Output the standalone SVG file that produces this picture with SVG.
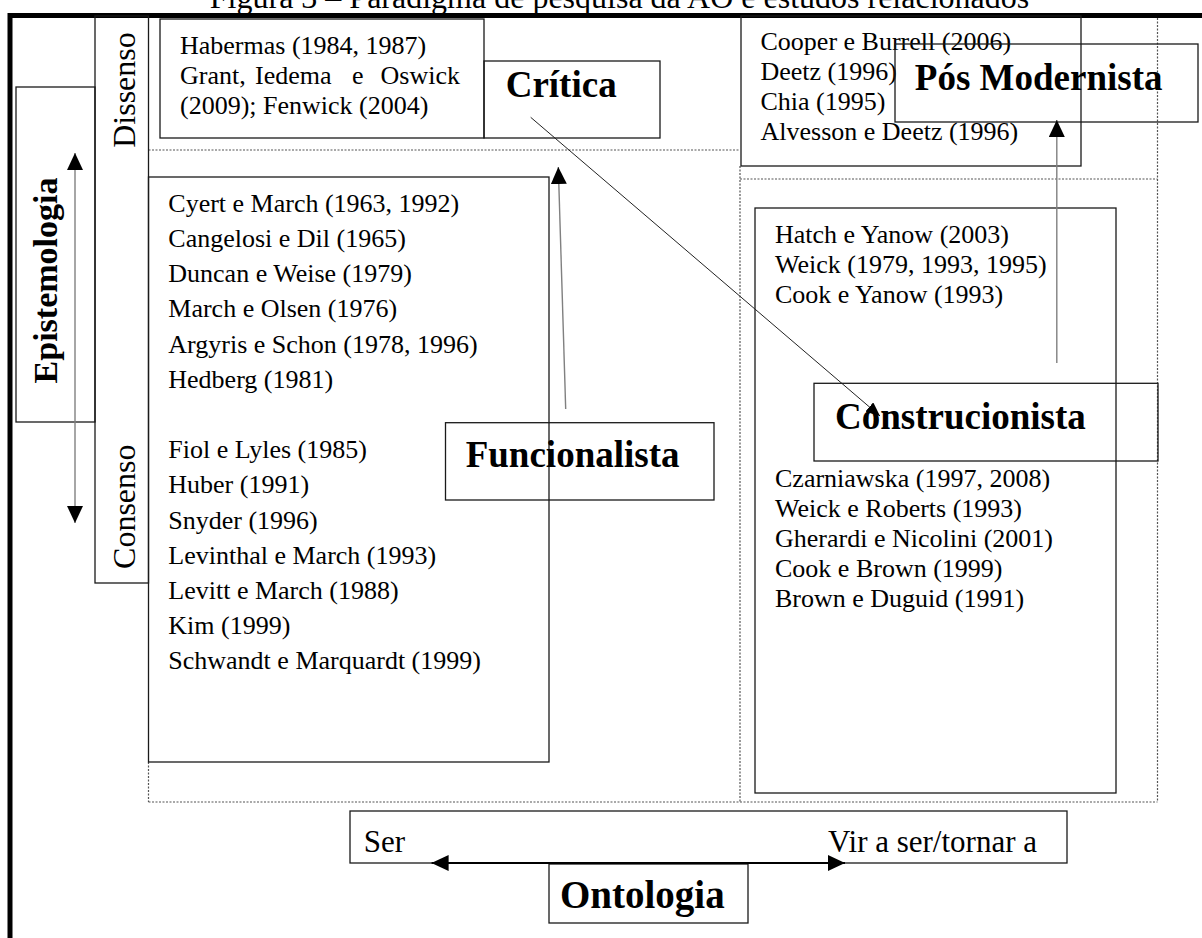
<svg xmlns="http://www.w3.org/2000/svg" width="1202" height="938" viewBox="0 0 1202 938">
  <style>
    .box { fill: none; stroke: #1a1a1a; stroke-width: 1.3; }
    .dot { fill: none; stroke: #555; stroke-width: 1.2; stroke-dasharray: 2 1.5; }
    .frame { stroke: #000; stroke-width: 5; fill: none; }
    .ref { font-family: "Liberation Serif", "Times New Roman", serif; font-size: 26px; fill: #000; }
    .lbl { font-family: "Liberation Serif", "Times New Roman", serif; font-size: 37px; font-weight: bold; fill: #000; }
    .axis { font-family: "Liberation Serif", "Times New Roman", serif; font-size: 32px; fill: #000; }
    .title { font-family: "Liberation Serif", "Times New Roman", serif; font-size: 32px; fill: #000; }
    .grey { stroke: #808080; stroke-width: 1.4; fill: none; }
    .thin { stroke: #222; stroke-width: 1; fill: none; }
    .bold2 { stroke: #000; stroke-width: 2; fill: none; }
  </style>
  <defs>
    <marker id="head" viewBox="0 0 17 16" refX="17" refY="8" markerWidth="17" markerHeight="16" markerUnits="userSpaceOnUse" orient="auto-start-reverse">
      <path d="M0,0 L17,8 L0,16 Z" fill="#000"/>
    </marker>
    <marker id="headSmall" viewBox="0 0 14 12" refX="14" refY="6" markerWidth="14" markerHeight="12" markerUnits="userSpaceOnUse" orient="auto">
      <path d="M0,0 L14,6 L0,12 Z" fill="#000"/>
    </marker>
  </defs>

  <rect width="1202" height="938" fill="#fff"/>

  <!-- caption -->
  <text class="title" x="619.5" y="8" text-anchor="middle">Figura 3 – Paradigma de pesquisa da AO e estudos relacionados</text>

  <!-- outer frame -->
  <g id="frame">
    <line class="frame" x1="8" y1="15.5" x2="1202" y2="15.5"/>
    <line class="frame" x1="10" y1="13" x2="10" y2="938"/>
  </g>

  <!-- quadrant dividers -->
  <g id="quadrants">
    <path class="dot" d="M148.5,150 H740"/>
    <path class="dot" d="M740,166 V802"/>
    <path class="dot" d="M740,179 H1157.5"/>
    <path class="dot" d="M1157.5,18 V802"/>
    <path class="dot" d="M148.5,802 H1157.5"/>
    <path class="dot" d="M148.5,762 V802"/>
  </g>

  <!-- epistemology axis -->
  <g id="epistemologia">
    <rect class="box" x="16" y="87" width="79" height="335"/>
    <text class="lbl" font-size="34" style="font-size:34px" x="57" y="280.5" text-anchor="middle" transform="rotate(-90 57 280.5)">Epistemologia</text>
  </g>
  <g id="dissenso-consenso">
    <rect class="box" x="95" y="16" width="53.5" height="567"/>
    <text class="axis" x="135" y="90" text-anchor="middle" transform="rotate(-90 135 90)">Dissenso</text>
    <text class="axis" x="135" y="506.7" text-anchor="middle" transform="rotate(-90 135 506.7)">Consenso</text>
  </g>

  <!-- critical paradigm -->
  <g id="critica-refs">
    <rect class="box" x="160" y="19" width="324" height="119"/>
    <text class="ref" x="180" y="54">Habermas (1984, 1987)</text>
    <text class="ref" y="84"><tspan x="180">Grant,</tspan><tspan x="255">Iedema</tspan><tspan x="352">e</tspan><tspan x="380.5">Oswick</tspan></text>
    <text class="ref" x="180" y="114">(2009); Fenwick (2004)</text>
  </g>
  <g id="critica">
    <rect class="box" x="484" y="61" width="176" height="77"/>
    <text class="lbl" x="505.7" y="97">Crítica</text>
  </g>

  <!-- postmodern paradigm -->
  <g id="pos-refs">
    <rect class="box" x="741" y="16" width="340" height="150"/>
    <text class="ref" x="760.5" y="50">Cooper e Burrell (2006)</text>
    <text class="ref" x="760.5" y="79.5">Deetz (1996)</text>
    <text class="ref" x="760.5" y="109.5">Chia (1995)</text>
    <text class="ref" x="760.5" y="139.5">Alvesson e Deetz (1996)</text>
  </g>
  <g id="pos-modernista">
    <rect class="box" x="895" y="44" width="303" height="78"/>
    <text class="lbl" x="914.8" y="90">Pós Modernista</text>
  </g>

  <!-- functionalist paradigm -->
  <g id="funcionalista-refs">
    <rect class="box" x="148.5" y="177" width="400.5" height="585"/>
    <text class="ref" x="168.3" y="211.7">Cyert e March (1963, 1992)</text>
    <text class="ref" x="168.3" y="246.9">Cangelosi e Dil (1965)</text>
    <text class="ref" x="168.3" y="282.1">Duncan e Weise (1979)</text>
    <text class="ref" x="168.3" y="317.3">March e Olsen (1976)</text>
    <text class="ref" x="168.3" y="352.5">Argyris e Schon (1978, 1996)</text>
    <text class="ref" x="168.3" y="387.7">Hedberg (1981)</text>
    <text class="ref" x="168.3" y="458.1">Fiol e Lyles (1985)</text>
    <text class="ref" x="168.3" y="493.3">Huber (1991)</text>
    <text class="ref" x="168.3" y="528.5">Snyder (1996)</text>
    <text class="ref" x="168.3" y="563.7">Levinthal e March (1993)</text>
    <text class="ref" x="168.3" y="598.9">Levitt e March (1988)</text>
    <text class="ref" x="168.3" y="634.1">Kim (1999)</text>
    <text class="ref" x="168.3" y="669.3">Schwandt e Marquardt (1999)</text>
  </g>
  <g id="funcionalista">
    <rect class="box" x="445.5" y="422.7" width="268.5" height="77.3"/>
    <text class="lbl" x="465.7" y="466.7">Funcionalista</text>
  </g>

  <!-- constructionist paradigm -->
  <g id="construcionista-refs">
    <rect class="box" x="755" y="208" width="361" height="585"/>
    <text class="ref" x="775" y="243.3">Hatch e Yanow (2003)</text>
    <text class="ref" x="775" y="273.3">Weick (1979, 1993, 1995)</text>
    <text class="ref" x="775" y="303.3">Cook e Yanow (1993)</text>
    <text class="ref" x="775" y="486.7">Czarniawska (1997, 2008)</text>
    <text class="ref" x="775" y="516.7">Weick e Roberts (1993)</text>
    <text class="ref" x="775" y="546.7">Gherardi e Nicolini (2001)</text>
    <text class="ref" x="775" y="576.7">Cook e Brown (1999)</text>
    <text class="ref" x="775" y="606.7">Brown e Duguid (1991)</text>
  </g>
  <g id="construcionista">
    <rect class="box" x="814" y="383.3" width="344" height="77.7"/>
    <text class="lbl" x="835" y="429.3">Construcionista</text>
  </g>

  <!-- ontology axis -->
  <g id="ontologia-eixo">
    <rect class="box" x="350" y="811" width="717" height="52"/>
    <text class="axis" style="font-size:31px" x="363.8" y="851.7">Ser</text>
    <text class="axis" style="font-size:31px" x="828" y="851.7">Vir a ser/tornar a</text>
  </g>
  <g id="ontologia">
    <rect class="box" x="549" y="864" width="199" height="59"/>
    <text class="lbl" style="font-size:39px" x="560" y="908">Ontologia</text>
  </g>

  <!-- connectors -->
  <g id="connectors">
    <path class="grey" d="M75,153 V523" marker-start="url(#head)" marker-end="url(#head)"/>
    <path class="grey" d="M565.7,409 L558.3,167" marker-end="url(#head)"/>
    <path class="grey" d="M1056.8,363 V120" marker-end="url(#head)"/>
    <path class="thin" d="M530.7,117.3 L880,416" marker-end="url(#headSmall)"/>
    <path class="bold2" d="M431.6,863 H845" marker-start="url(#head)" marker-end="url(#head)"/>
  </g>
</svg>
